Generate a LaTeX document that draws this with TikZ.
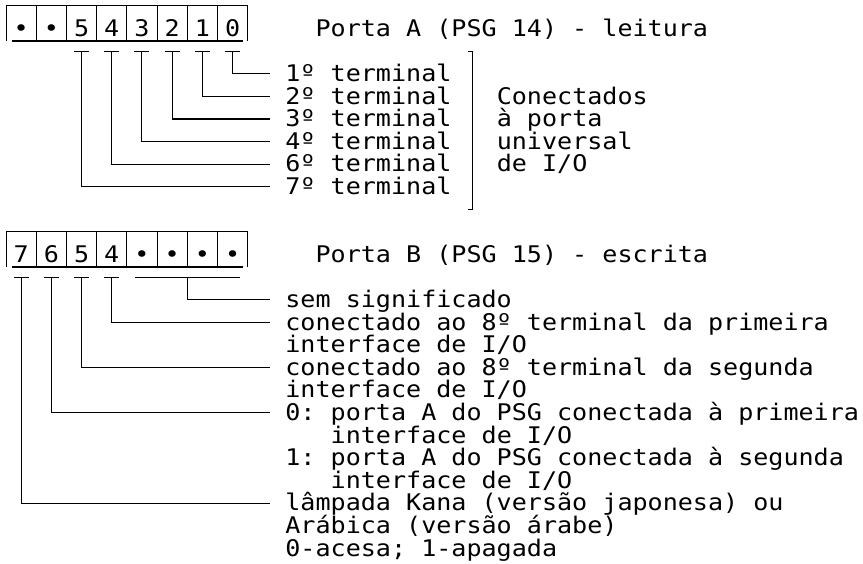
\documentclass[tikz,border=0pt]{standalone}
\usepackage{fontspec}
\setmonofont[FakeStretch=1.095]{DejaVu Sans Mono}
\begin{document}
\begin{tikzpicture}[
  txt/.style={font=\ttfamily\fontsize{22.9}{22.9}\selectfont, inner sep=0pt, outer sep=0pt,
              text height=18.4pt, text depth=3pt, anchor=west},
  cell/.style={txt, anchor=center},
  wire/.style={line width=1.05pt},
  boxline/.style={line width=1.05pt},
  underln/.style={line width=1.6pt},
]
\useasboundingbox (0,0) rectangle (863pt,-564pt);
\begin{scope}[x=15.1pt, y=-22.6pt, shift={(-1.5pt,-28.6pt)}]
% ---------- Port A register ----------
\node[cell] (ad7) at (1.5,0) {•};
\node[cell] (ad6) at (3.5,0) {•};
\node[cell] (a5) at (5.5,0) {5};
\node[cell] (a4) at (7.5,0) {4};
\node[cell] (a3) at (9.5,0) {3};
\node[cell] (a2) at (11.5,0) {2};
\node[cell] (a1) at (13.5,0) {1};
\node[cell] (a0) at (15.5,0) {0};
\draw[boxline] (0.5,-1.03) -- (16.5,-1.03);
\foreach \c in {0.5,2.5,...,16.5} \draw[boxline] (\c,-1.03) -- (\c,0.55);
\draw[underln] (0.89,0.55) -- (16.19,0.55);
\node[txt] (ha) at (21,0) {Porta A (PSG 14) - leitura};
% terminals
\node[txt] (t1) at (19,2) {1º terminal};
\node[txt] (t2) at (19,3) {2º terminal};
\node[txt] (t3) at (19,4) {3º terminal};
\node[txt] (t4) at (19,5) {4º terminal};
\node[txt] (t6) at (19,6) {6º terminal};
\node[txt] (t7) at (19,7) {7º terminal};
\node[txt] (c1) at (33,3) {Conectados};
\node[txt] (c2) at (33,4) {à porta};
\node[txt] (c3) at (33,5) {universal};
\node[txt] (c4) at (33,6) {de I/O};
\draw[wire] (31.07,1.02) -- (31.4,1.02) -- (31.4,8.0) -- (31.07,8.0);
% connectors A
\foreach \b/\x/\t in {0/15.5/t1, 1/13.5/t2, 2/11.5/t3, 3/9.5/t4, 4/7.5/t6, 5/5.5/t7}{
  \coordinate (pa\b) at (\x,1);
  \draw[wire] ([xshift=-7.5pt]pa\b) -- ([xshift=7.5pt]pa\b);
  \draw[wire] (pa\b) |- ([xshift=-15.6pt]\t.west);
}
% ---------- Port B register ----------
\node[cell] (b7) at (1.5,10) {7};
\node[cell] (b6) at (3.5,10) {6};
\node[cell] (b5) at (5.5,10) {5};
\node[cell] (b4) at (7.5,10) {4};
\node[cell] (bd3) at (9.5,10) {•};
\node[cell] (bd2) at (11.5,10) {•};
\node[cell] (bd1) at (13.5,10) {•};
\node[cell] (bd0) at (15.5,10) {•};
\draw[boxline] (0.5,8.99) -- (16.5,8.99);
\foreach \c in {0.5,2.5,...,16.5} \draw[boxline] (\c,8.99) -- (\c,10.55);
\draw[underln] (0.89,10.55) -- (16.19,10.55);
\node[txt] (hb) at (21,10) {Porta B (PSG 15) - escrita};
% descriptions
\node[txt] (s0) at (19,12) {sem significado};
\node[txt] (s4) at (19,13) {conectado ao 8º terminal da primeira};
\node[txt] (s4b) at (19,14) {interface de I/O};
\node[txt] (s5) at (19,15) {conectado ao 8º terminal da segunda};
\node[txt] (s5b) at (19,16) {interface de I/O};
\node[txt] (s6) at (19,17) {0: porta A do PSG conectada à primeira};
\node[txt] (s6b) at (22,18) {interface de I/O};
\node[txt] (s6c) at (19,19) {1: porta A do PSG conectada à segunda};
\node[txt] (s6d) at (22,20) {interface de I/O};
\node[txt] (s7) at (19,21) {lâmpada Kana (versão japonesa) ou};
\node[txt] (s7b) at (19,22) {Arábica (versão árabe)};
\node[txt] (s7c) at (19,23) {0-acesa; 1-apagada};
% connectors B
\coordinate (pbd) at (12.5,11);
\draw[wire] (9.02,11) -- (15.97,11);
\draw[wire] (pbd) |- ([xshift=-15.6pt]s0.west);
\foreach \b/\x/\t in {4/7.5/s4, 5/5.5/s5, 6/3.5/s6, 7/1.5/s7}{
  \coordinate (pb\b) at (\x,11);
  \draw[wire] ([xshift=-7.5pt]pb\b) -- ([xshift=7.5pt]pb\b);
  \draw[wire] (pb\b) |- ([xshift=-15.6pt]\t.west);
}
\end{scope}
\end{tikzpicture}
\end{document}
